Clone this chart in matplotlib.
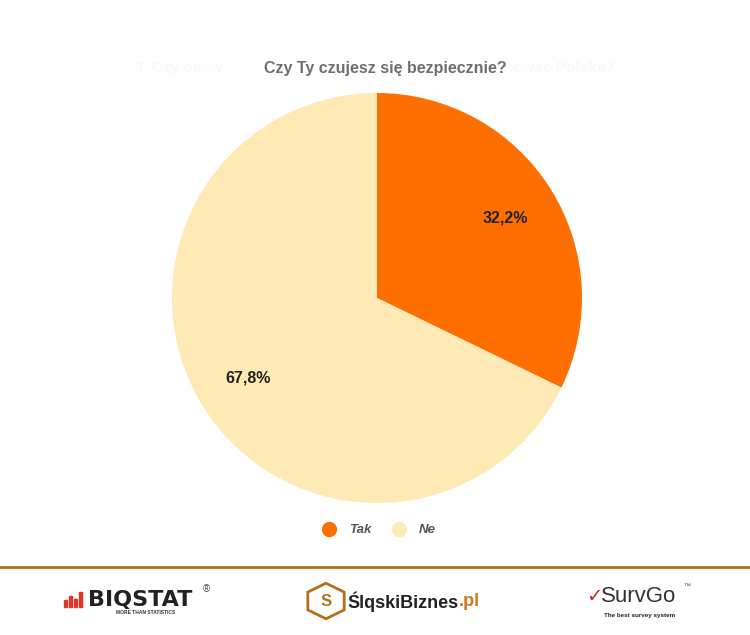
import matplotlib.pyplot as plt
from matplotlib.lines import Line2D
from matplotlib.patches import RegularPolygon, Rectangle

plt.rcParams["font.family"] = ["Liberation Sans", "DejaVu Sans"]

title = "Czy Ty czujesz się bezpiecznie?"
labels = ["Tak", "Ne"]
values = [32.2, 67.8]
colors = ["#FF6F00", "#FFE9B4"]

W, H = 750, 635
fig = plt.figure(figsize=(7.5, 6.35), dpi=100)
fig.patch.set_facecolor("white")


def fx(px):
    return px / W


def fy(py):
    return 1 - py / H


# pie area
cx, cy, r = 377, 298, 205
ax = fig.add_axes([fx(cx - r), fy(cy + r), 2 * r / W, 2 * r / H])
ax.pie(values, colors=colors, startangle=90, counterclock=False,
       autopct=lambda p: f"{p:.1f}%".replace(".", ","), pctdistance=0.74,
       textprops=dict(fontsize=11.5, fontweight="bold", color="#222222"),
       wedgeprops=dict(linewidth=0))
ax.set_xlim(-1, 1)
ax.set_ylim(-1, 1)
ax.set_aspect("auto")
ax.axis("off")

# title (with the faint ghost text from an earlier chart)
fig.text(fx(135), fy(68), "3. Czy obaw", fontsize=11, color="#fafafa",
         ha="left", va="center", fontweight="bold")
fig.text(fx(615), fy(68), "nować Polską?", fontsize=11, color="#fafafa",
         ha="right", va="center", fontweight="bold")
fig.text(fx(385), fy(68), title, fontsize=11.5, color="#6e6e6e",
         ha="center", va="center", fontweight="bold")

# legend
handles = [Line2D([], [], marker="o", linestyle="", markersize=11,
                  markerfacecolor=c, markeredgewidth=0) for c in colors]
leg = fig.legend(handles, labels, loc="center", bbox_to_anchor=(fx(376), fy(530)),
                 ncol=2, frameon=False, handletextpad=0.5, columnspacing=1.1,
                 prop=dict(style="italic", weight="bold", size=9.5))
for t in leg.get_texts():
    t.set_color("#555555")

# footer
fig.add_artist(Line2D([0, 1], [fy(567), fy(567)], color="#B0701C", linewidth=2))

# BIOSTAT logo
for i, h in enumerate([7, 11, 8, 15]):
    fig.add_artist(Rectangle((fx(64 + i * 5), fy(607)), fx(2.5), h / H,
                             color="#E53222", transform=fig.transFigure))
fig.text(fx(88), fy(600), "BIQSTAT", fontsize=16, fontweight="bold",
         color="#222222", ha="left", va="center", family=["DejaVu Sans"])
fig.text(fx(203), fy(589), "®", fontsize=7, color="#444444", ha="left", va="center")
fig.text(fx(146), fy(613), "MORE THAN STATISTICS", fontsize=3.5,
         color="#333333", ha="center", va="center", fontweight="bold")

# ŚląskiBiznes logo
fig.add_artist(RegularPolygon((fx(326), fy(601)), 6, radius=0.028,
                              orientation=0, facecolor="none", edgecolor="#B5701A",
                              linewidth=2, transform=fig.transFigure))
fig.text(fx(326), fy(601), "S", fontsize=12, fontweight="bold",
         color="#B5701A", ha="center", va="center")
fig.text(fx(347), fy(602), "ŚlqskiBiznes", fontsize=13, fontweight="bold",
         color="#222222", ha="left", va="center")
fig.text(fx(459), fy(602), ".pl", fontsize=13, fontweight="bold", color="#C87A1E",
         ha="left", va="center")

# SurvGo logo
fig.text(fx(586), fy(597), "✓", fontsize=14, color="#D0202E", ha="left",
         va="center", family=["DejaVu Sans"])
fig.text(fx(601), fy(597), "SurvGo", fontsize=16, color="#333333",
         ha="left", va="center")
fig.text(fx(683), fy(586), "™", fontsize=5, color="#444444", ha="left", va="center")
fig.text(fx(640), fy(615), "The best survey system", fontsize=4.5,
         color="#222222", ha="center", va="center", fontweight="bold")

fig.savefig("out.png", dpi=100, facecolor="white")
